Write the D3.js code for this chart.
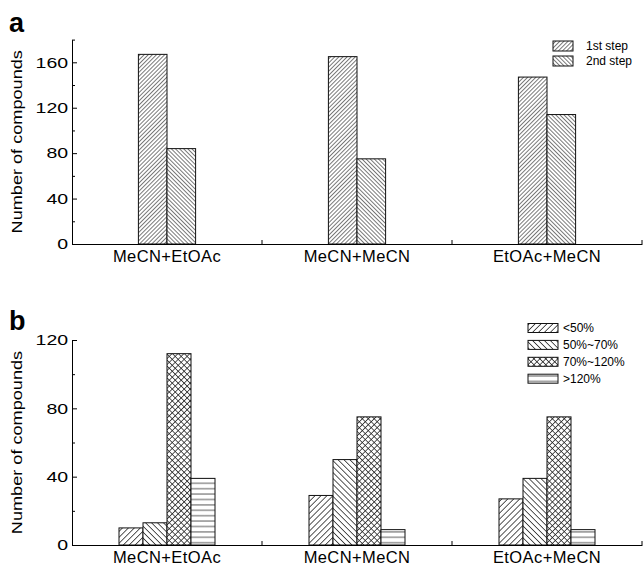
<!DOCTYPE html>
<html>
<head>
<meta charset="utf-8">
<script src="https://cdn.jsdelivr.net/npm/d3@7"></script>
<style>
  body { margin: 0; background: #fff; }
  svg { display: block; }
  text { font-family: "Liberation Sans", Arial, sans-serif; fill: #000; }
</style>
</head>
<body>
<svg width="644" height="566"></svg>
<script>
// data
var categories = ["MeCN+EtOAc", "MeCN+MeCN", "EtOAc+MeCN"];

var stepSeries = ["1st step", "2nd step"];
var firstStep = [167, 165, 147];
var secondStep = [84, 75, 114];

var recoverySeries = ["<50%", "50%~70%", "70%~120%", ">120%"];
var below50 = [10, 29, 27];
var from50to70 = [13, 50, 39];
var from70to120 = [112, 75, 75];
var above120 = [39, 9, 9];

var yTicksA = [0, 40, 80, 120, 160],
    yMinorA = [20, 60, 100, 140, 180];
var yTicksB = [0, 40, 80, 120],
    yMinorB = [20, 60, 100];

var svg = d3.select("svg"),
    defs = svg.append("defs");

// hatch fills, Origin style
function hatch (id, size, angle, lines, w) {
    var p = defs.append("pattern")
        .attr("id", id)
        .attr("patternUnits", "userSpaceOnUse")
        .attr("width", size)
        .attr("height", size)
        .attr("patternTransform", "rotate(" + angle + ")");
    p.append("rect").attr("width", size).attr("height", size).attr("fill", "#fff");
    lines.forEach(function (l) {
        var ln = p.append("line").attr("stroke", "#222").attr("stroke-width", w);
        if (l == "v") ln.attr("x1", size / 2).attr("x2", size / 2).attr("y1", 0).attr("y2", size);
        else ln.attr("y1", size / 2).attr("y2", size / 2).attr("x1", 0).attr("x2", size);
    });
}
hatch("a1", 2.9, 45, ["v"], 0.6);
hatch("a2", 2.9, -45, ["v"], 0.6);
hatch("b1", 4.2, 45, ["v"], 0.75);
hatch("b2", 4.2, -45, ["v"], 0.75);
hatch("b3", 4.2, 45, ["v", "h"], 0.75);
hatch("b4", 5.4, 0, ["h"], 0.75);

function drawPanel (o) {
    var g = svg.append("g");

    var x = d3.scaleBand().domain(categories).range([72, 642]);
    var y = d3.scaleLinear().domain([0, o.yMax]).range([o.bottom, o.top]);
    var groupW = o.barW * o.series.length;
    var xs = d3.scaleBand().domain(o.series).range([0, groupW]);

    o.series.forEach(function (s, j) {
        g.selectAll(null)
            .data(o.values[j])
            .enter().append("rect")
                .attr("x", function (d, i) { return x(categories[i]) + (x.bandwidth() - groupW) / 2 + xs(s); })
                .attr("y", function (d) { return y(d); })
                .attr("width", xs.bandwidth())
                .attr("height", function (d) { return y(0) - y(d); })
                .attr("fill", "url(#" + o.patterns[j] + ")")
                .attr("stroke", "#111")
                .attr("stroke-width", 1);
    });

    // y axis, ticks pointing inward
    var ya = g.append("g")
        .attr("transform", "translate(72,0)")
        .call(d3.axisLeft(y).tickValues(o.yTicks).tickSizeInner(-5).tickSizeOuter(0).tickPadding(3));
    ya.selectAll("text")
        .style("font-size", "15px")
        .attr("transform", "scale(1.3,1)");
    ya.select(".domain").attr("stroke", "#000");

    g.append("g")
        .attr("transform", "translate(72,0)")
        .call(d3.axisLeft(y).tickValues(o.yMinor).tickSizeInner(-3).tickSizeOuter(0).tickFormat(""))
        .select(".domain").remove();

    // x axis: labels at centres, ticks at the group borders
    var xa = g.append("g")
        .attr("transform", "translate(0," + o.bottom + ")")
        .call(d3.axisBottom(x).tickSize(0).tickPadding(6));
    xa.selectAll("text").style("font-size", "16.5px").style("letter-spacing", "0.4px");

    g.selectAll(null)
        .data(categories)
        .enter().append("line")
            .attr("x1", function (d) { return x(d) + x.step(); })
            .attr("x2", function (d) { return x(d) + x.step(); })
            .attr("y1", o.bottom)
            .attr("y2", o.bottom - 4)
            .attr("stroke", "#000");

    g.append("text")
        .attr("transform", "translate(22," + (o.top + o.bottom) / 2 + ") rotate(-90) scale(1.25,1)")
        .attr("text-anchor", "middle")
        .style("font-size", "14.5px")
        .text("Number of compounds");

    g.append("text")
        .attr("x", 9)
        .attr("y", o.labelY)
        .style("font-size", "27px")
        .style("font-weight", "bold")
        .text(o.label);

    var legend = g.selectAll(".legend")
        .data(o.series)
        .enter().append("g")
            .attr("class", "legend")
            .attr("transform", function (d, i) { return "translate(" + o.legX + "," + (o.legY + i * o.legStep) + ")"; });

    legend.append("rect")
        .attr("width", o.swW)
        .attr("height", o.swH)
        .attr("y", -o.swH / 2)
        .attr("fill", function (d, i) { return "url(#" + o.patterns[i] + ")"; })
        .attr("stroke", "#111");

    legend.append("text")
        .attr("x", o.swW + o.legGap)
        .attr("y", o.legTextDy)
        .style("font-size", o.legFont)
        .text(function (d) { return d; });
}

drawPanel({
    label: "a", labelY: 32,
    series: stepSeries,
    values: [firstStep, secondStep],
    patterns: ["a1", "a2"],
    yMax: 180, yTicks: yTicksA, yMinor: yMinorA,
    top: 39.6, bottom: 244, barW: 28.6,
    legX: 553, legY: 46, legStep: 15, swW: 20, swH: 10,
    legGap: 13, legTextDy: 4.3, legFont: "12px"
});

drawPanel({
    label: "b", labelY: 330,
    series: recoverySeries,
    values: [below50, from50to70, from70to120, above120],
    patterns: ["b1", "b2", "b3", "b4"],
    yMax: 120, yTicks: yTicksB, yMinor: yMinorB,
    top: 340, bottom: 545, barW: 24,
    legX: 528, legY: 328, legStep: 16.9, swW: 30, swH: 9,
    legGap: 5, legTextDy: 4.3, legFont: "12px"
});
</script>
</body>
</html>
